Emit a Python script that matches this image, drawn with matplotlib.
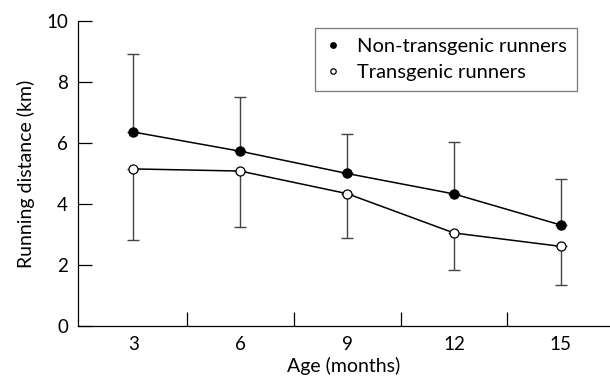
import matplotlib
matplotlib.use("Agg")
import matplotlib.pyplot as plt
import numpy as np

plt.rcParams['font.family'] = ['Lato', 'DejaVu Sans']

ages = ["3", "6", "9", "12", "15"]
non_tg = [6.36, 5.73, 5.0, 4.33, 3.31]
non_tg_err = [2.56, 1.79, 1.28, 1.70, 1.50]
tg = [5.15, 5.08, 4.34, 3.05, 2.61]
tg_err = [2.33, 1.82, 1.44, 1.22, 1.28]

fig = plt.figure(figsize=(6.1, 3.81), dpi=100)
ax = fig.add_axes([0.1274, 0.1444, 0.8726, 0.8005])

x = np.arange(len(ages))
zeros = np.zeros(len(ages))

ax.errorbar(x, non_tg, yerr=[zeros, non_tg_err], fmt='none', ecolor='#444444',
            elinewidth=1.0, capsize=4, capthick=1.0, zorder=1)
ax.errorbar(x, tg, yerr=[tg_err, zeros], fmt='none', ecolor='#444444',
            elinewidth=1.0, capsize=4, capthick=1.0, zorder=1)

ax.plot(x, non_tg, color='black', lw=1.1, marker='o', ms=6.5,
        mfc='black', mec='black', label='Non-transgenic runners', zorder=3)
ax.plot(x, tg, color='black', lw=1.1, marker='o', ms=6.5,
        mfc='white', mec='black', mew=0.9, label='Transgenic runners', zorder=3)

ax.set_xlim(-0.52, 4.46)
ax.set_ylim(0, 10)

ax.set_xticks(x)
ax.set_xticklabels(ages)
ax.set_xticks(x[:-1] + 0.5, minor=True)
ax.tick_params(axis='x', which='major', length=0, pad=7, labelsize=13.5)
ax.tick_params(axis='x', which='minor', direction='in', length=10, width=0.9)
ax.set_yticks([0, 2, 4, 6, 8, 10])
ax.tick_params(axis='y', direction='in', length=10, width=0.9, pad=7, labelsize=13.5)

for s in ['top', 'right']:
    ax.spines[s].set_visible(False)
for s in ['left', 'bottom']:
    ax.spines[s].set_linewidth(0.9)

ax.set_xlabel('Age (months)', fontsize=14, labelpad=3)
ax.set_ylabel('Running distance (km)', fontsize=14, labelpad=8)

leg = ax.legend(loc='upper right', bbox_to_anchor=(0.938, 0.977), fontsize=14.5,
                frameon=True, fancybox=False, edgecolor='#555555',
                handlelength=0.8, handletextpad=0.8, markerscale=0.6,
                borderpad=0.5, labelspacing=0.45, borderaxespad=0)
for line in leg.get_lines():
    line.set_linestyle('none')
leg.get_frame().set_linewidth(0.9)

fig.savefig('out.png', dpi=100)
